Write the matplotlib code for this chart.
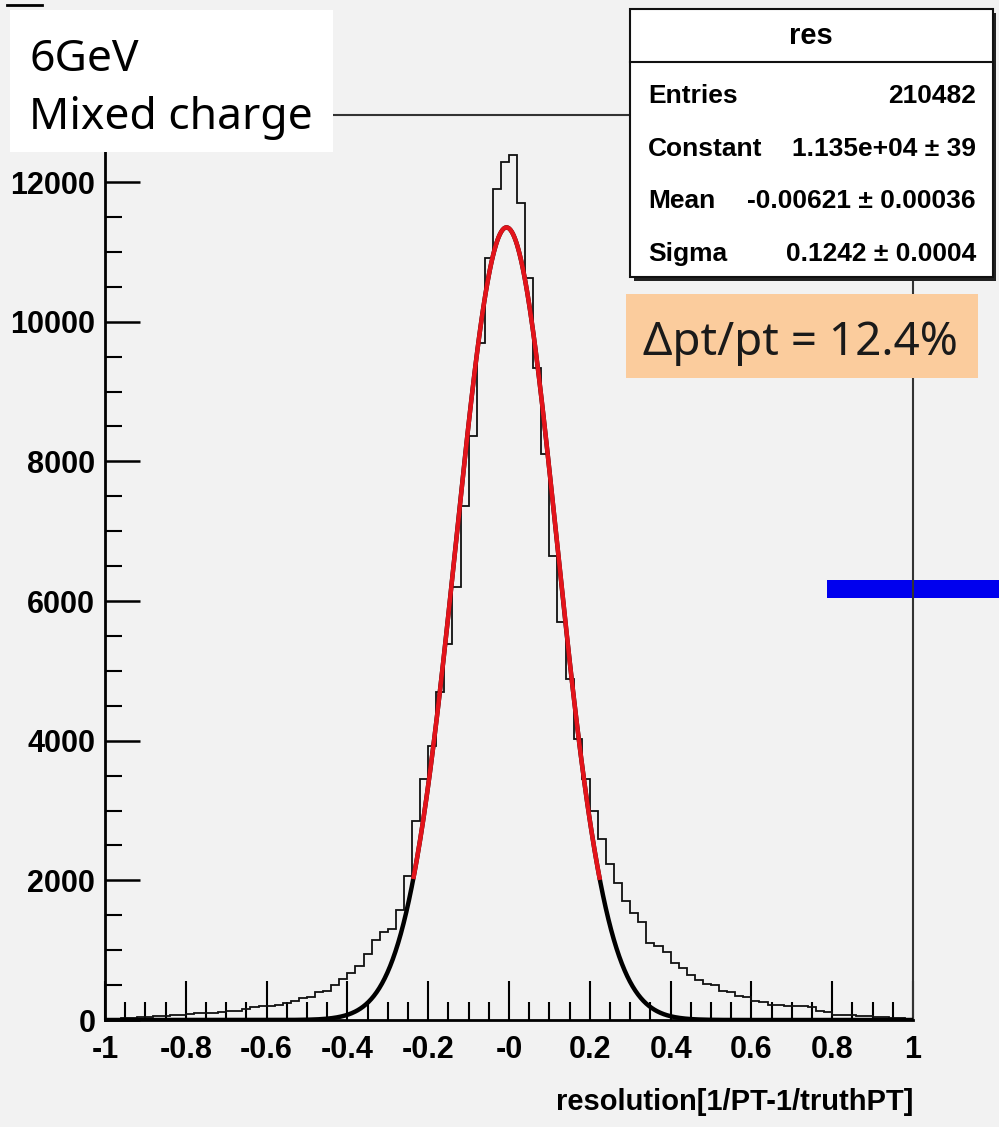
import numpy as np
import matplotlib.pyplot as plt
from matplotlib.patches import Rectangle
from matplotlib.lines import Line2D
from matplotlib.ticker import MultipleLocator

# histogram "res": 100 bins from -1 to 1 (counts)
bin_lo, bin_hi, n_bins = -1.0, 1.0, 100
counts = [
    15, 20, 25, 30, 45, 50, 55, 60, 65, 70,
    90, 95, 100, 105, 110, 130, 135, 160, 180, 200,
    205, 215, 250, 265, 310, 330, 400, 420, 500, 590,
    680, 770, 950, 1150, 1260, 1310, 1570, 2060, 2850, 3450,
    3930, 4690, 5390, 6200, 7360, 8360, 9690, 10910, 11900, 12280,
    12390, 11700, 10620, 9330, 8110, 6650, 5700, 4880, 4020, 3450,
    2990, 2590, 2230, 1960, 1700, 1530, 1410, 1100, 1060, 980,
    815, 740, 645, 575, 510, 495, 415, 400, 340, 330,
    270, 255, 220, 215, 205, 195, 200, 185, 125, 115,
    75, 70, 65, 60, 55, 45, 40, 35, 25, 20,
]

# gaus fit shown in the stats box
fit_const = 1.135e4
fit_mean = -0.00621
fit_sigma = 0.1242
fit_range = (-0.236, 0.224)

x_ticks = [-1, -0.8, -0.6, -0.4, -0.2, 0, 0.2, 0.4, 0.6, 0.8, 1]
x_ticklabels = ["-1", "-0.8", "-0.6", "-0.4", "-0.2", "-0", "0.2", "0.4", "0.6", "0.8", "1"]
y_ticks = [0, 2000, 4000, 6000, 8000, 10000, 12000]
y_max = 12960

stats_title = "res"
stats_names = ["Entries", "Constant", "Mean", "Sigma"]
stats_values = ["210482", "1.135e+04 \u00b1 39", "-0.00621 \u00b1 0.00036", "0.1242 \u00b1 0.0004"]

note_lines = ["6GeV", "Mixed charge"]
result_text = "\u0394pt/pt = 12.4%"

W, H = 999, 1127
bg = "#f2f2f2"
root_font = ["Liberation Sans Narrow", "Liberation Sans", "DejaVu Sans"]
ppt_font = ["Noto Sans", "DejaVu Sans"]


def fx(px):
    return px / W


def fy(py):
    return 1 - py / H


fig = plt.figure(figsize=(W / 100, H / 100), dpi=100, facecolor=bg)
ax = fig.add_axes([fx(105), fy(1020), fx(913) - fx(105), fy(115) - fy(1020)])
ax.set_facecolor("none")

edges = np.linspace(bin_lo, bin_hi, n_bins + 1)
ax.stairs(counts, edges, color="#111111", lw=1.3, zorder=2)

xs = np.linspace(bin_lo, bin_hi, 1200)
ax.plot(xs, fit_const * np.exp(-0.5 * ((xs - fit_mean) / fit_sigma) ** 2),
        color="black", lw=3.2, zorder=3)
xr = np.linspace(fit_range[0], fit_range[1], 400)
ax.plot(xr, fit_const * np.exp(-0.5 * ((xr - fit_mean) / fit_sigma) ** 2),
        color="#e3141b", lw=3.2, zorder=4)

ax.set_xlim(bin_lo, bin_hi)
ax.set_ylim(0, y_max)
ax.set_xticks(x_ticks)
ax.set_xticklabels(x_ticklabels)
ax.set_yticks(y_ticks)
ax.xaxis.set_minor_locator(MultipleLocator(0.05))
ax.yaxis.set_minor_locator(MultipleLocator(500))
ax.tick_params(axis="x", which="major", direction="in", length=28, width=1.5, pad=11)
ax.tick_params(axis="x", which="minor", direction="in", length=13, width=1.5)
ax.tick_params(axis="y", which="major", direction="in", length=25, width=1.8, pad=7)
ax.tick_params(axis="y", which="minor", direction="in", length=12, width=1.5)
for lab in ax.get_xticklabels() + ax.get_yticklabels():
    lab.set_fontfamily(root_font)
    lab.set_fontweight("bold")
    lab.set_fontsize(22)

for side in ["left", "bottom"]:
    ax.spines[side].set_linewidth(2)
    ax.spines[side].set_color("black")
for side in ["top", "right"]:
    ax.spines[side].set_linewidth(1.5)
    ax.spines[side].set_color("#333333")

ax.set_xlabel("resolution[1/PT-1/truthPT]", loc="right", fontfamily=root_font,
              fontweight="bold", fontsize=21, labelpad=16)

# blue bar on the right (under the frame line)
fig.add_artist(Rectangle((fx(827), fy(598)), fx(999) - fx(827), fy(580) - fy(598),
                         transform=fig.transFigure, fc="#0000ee", ec="none", zorder=-1))

# white note box, top left
fig.add_artist(Rectangle((fx(10), fy(152)), fx(333) - fx(10), fy(10) - fy(152),
                         transform=fig.transFigure, fc="white", ec="none", zorder=1))
fig.add_artist(Line2D([fx(7), fx(42)], [fy(5), fy(5)], transform=fig.transFigure,
                      color="black", lw=2))
fig.text(fx(29), fy(71), note_lines[0], fontfamily=ppt_font, fontsize=32, va="baseline", zorder=3)
fig.text(fx(29), fy(129), note_lines[1], fontfamily=ppt_font, fontsize=32, va="baseline", zorder=3)

# stats box
fig.add_artist(Rectangle((fx(634), fy(281)), fx(996) - fx(634), fy(13) - fy(281),
                         transform=fig.transFigure, fc="#222222", ec="none", zorder=1))
fig.add_artist(Rectangle((fx(630), fy(277)), fx(993) - fx(630), fy(9) - fy(277),
                         transform=fig.transFigure, fc="white", ec="#111111", lw=1.5, zorder=1))
fig.add_artist(Line2D([fx(630), fx(993)], [fy(62), fy(62)], transform=fig.transFigure,
                      color="#111111", lw=1.5, zorder=2))
fig.text(fx(811), fy(36), stats_title, fontfamily=root_font, fontweight="bold",
         fontsize=21, ha="center", va="center", zorder=3)
for i, (name, val) in enumerate(zip(stats_names, stats_values)):
    yy = 96 + i * 52.5
    fig.text(fx(648), fy(yy), name, fontfamily=root_font, fontweight="bold",
             fontsize=19, ha="left", va="center", zorder=3)
    fig.text(fx(976), fy(yy), val, fontfamily=root_font, fontweight="bold",
             fontsize=19, ha="right", va="center", zorder=3)

# resolution box
fig.add_artist(Rectangle((fx(626), fy(378)), fx(978) - fx(626), fy(294) - fy(378),
                         transform=fig.transFigure, fc="#fbcc9d", ec="none", zorder=1))
fig.text(fx(800), fy(355), result_text, fontfamily=ppt_font, fontsize=33,
         ha="center", va="baseline", color="#1a1a1a", zorder=3)

fig.savefig("out.png", dpi=100, facecolor=bg)
